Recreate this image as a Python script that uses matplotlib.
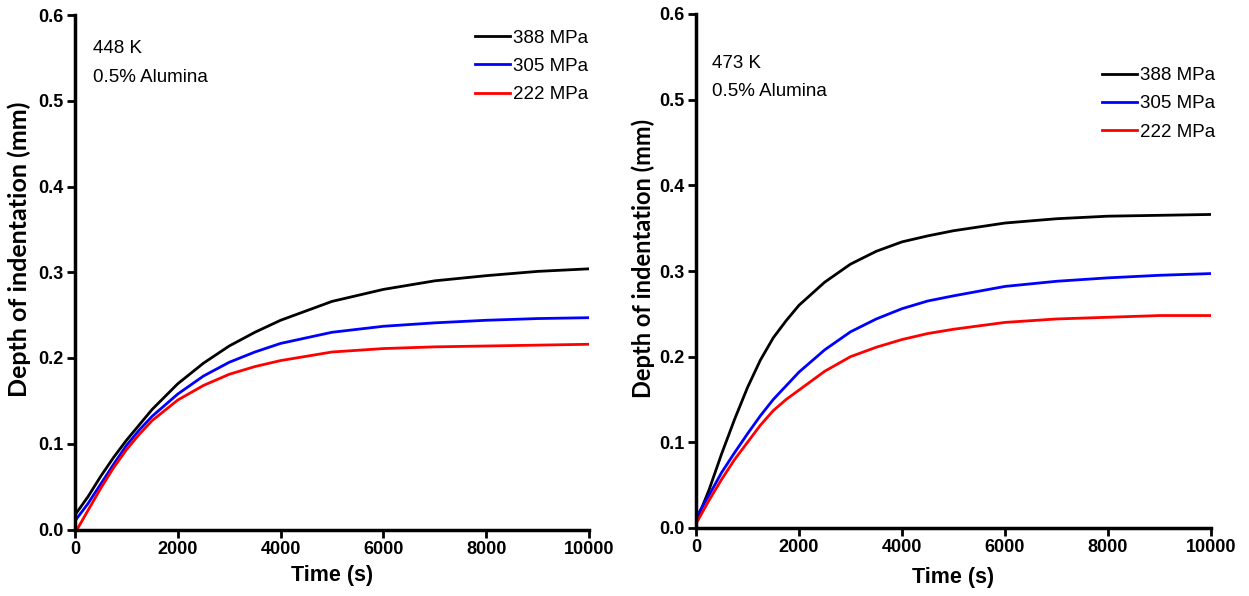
import matplotlib
matplotlib.use("Agg")
import matplotlib.pyplot as plt

plt.rcParams['font.family'] = ['Liberation Sans', 'DejaVu Sans']

# ---- data ----
time_448 = [0, 250, 500, 750, 1000, 1250, 1500, 2000, 2500, 3000, 3500, 4000, 5000, 6000, 7000, 8000, 9000, 10000]
d448_388 = [0.017, 0.038, 0.062, 0.084, 0.104, 0.122, 0.140, 0.170, 0.194, 0.214, 0.230, 0.244, 0.266, 0.280, 0.290, 0.296, 0.301, 0.304]
d448_305 = [0.010, 0.030, 0.053, 0.076, 0.098, 0.116, 0.132, 0.158, 0.179, 0.195, 0.207, 0.217, 0.230, 0.237, 0.241, 0.244, 0.246, 0.247]
time_448_red = [40, 250, 500, 750, 1000, 1250, 1500, 2000, 2500, 3000, 3500, 4000, 5000, 6000, 7000, 8000, 9000, 10000]
d448_222 = [0.000, 0.022, 0.048, 0.072, 0.093, 0.111, 0.127, 0.151, 0.168, 0.181, 0.190, 0.197, 0.207, 0.211, 0.213, 0.214, 0.215, 0.216]

time_473 = [0, 250, 500, 750, 1000, 1250, 1500, 1750, 2000, 2500, 3000, 3500, 4000, 4500, 5000, 6000, 7000, 8000, 9000, 10000]
d473_388 = [0.007, 0.044, 0.087, 0.127, 0.164, 0.196, 0.222, 0.242, 0.260, 0.287, 0.308, 0.323, 0.334, 0.341, 0.347, 0.356, 0.361, 0.364, 0.365, 0.366]
d473_305 = [0.012, 0.038, 0.065, 0.088, 0.110, 0.131, 0.150, 0.166, 0.182, 0.208, 0.229, 0.244, 0.256, 0.265, 0.271, 0.282, 0.288, 0.292, 0.295, 0.297]
d473_222 = [0.005, 0.032, 0.057, 0.080, 0.100, 0.120, 0.137, 0.150, 0.161, 0.183, 0.200, 0.211, 0.220, 0.227, 0.232, 0.240, 0.244, 0.246, 0.248, 0.248]

labels = ['388 MPa', '305 MPa', '222 MPa']
colors = ['black', 'blue', 'red']
xticks = [0, 2000, 4000, 6000, 8000, 10000]
yticks = [0.0, 0.1, 0.2, 0.3, 0.4, 0.5, 0.6]

W, H = 1249, 596
fig = plt.figure(figsize=(W / 100, H / 100), dpi=100)
ax1 = fig.add_axes([75 / W, 1 - 529.5 / H, 514 / W, 514.5 / H])
ax2 = fig.add_axes([696 / W, 1 - 528 / H, 515 / W, 514 / H])

def style(ax, ysize, ylab_xy, xpad):
    ax.set_xlim(0, 10000)
    ax.set_ylim(0, 0.6)
    ax.set_xticks(xticks)
    ax.set_yticks(yticks)
    ax.set_xticklabels([str(v) for v in xticks], fontsize=13, fontweight='bold')
    ax.set_yticklabels([f"{v:.1f}" for v in yticks], fontsize=13, fontweight='bold')
    for s in ['top', 'right']:
        ax.spines[s].set_visible(False)
    for s in ['left', 'bottom']:
        ax.spines[s].set_linewidth(2.5)
    ax.tick_params(direction='out', length=6, width=2, pad=2)
    ax.set_xlabel('Time (s)', fontsize=15.5, fontweight='bold', labelpad=xpad)
    ax.set_ylabel('Depth of indentation (mm)', fontsize=ysize, fontweight='bold',
                  family=['Lato', 'Liberation Sans', 'DejaVu Sans'])
    ax.yaxis.set_label_coords(*ylab_xy)

leg_kw = dict(loc='upper left', frameon=False, fontsize=13.5, handlelength=1.85,
              handletextpad=0.2, labelspacing=0.6, borderpad=0, borderaxespad=0)

ax1.plot(time_448, d448_388, color=colors[0], lw=2, label=labels[0])
ax1.plot(time_448, d448_305, color=colors[1], lw=2, label=labels[1])
ax1.plot(time_448_red, d448_222, color=colors[2], lw=2, label=labels[2])
style(ax1, 18, (-0.085, 0.545), 5)
ax1.text(0.035, 0.935, '448 K', transform=ax1.transAxes, fontsize=13.5, va='center')
ax1.text(0.035, 0.879, '0.5% Alumina', transform=ax1.transAxes, fontsize=13.5, va='center')
ax1.legend(bbox_to_anchor=(0.778, 0.972), **leg_kw)

ax2.plot(time_473, d473_388, color=colors[0], lw=2, label=labels[0])
ax2.plot(time_473, d473_305, color=colors[1], lw=2, label=labels[1])
ax2.plot(time_473, d473_222, color=colors[2], lw=2, label=labels[2])
style(ax2, 17, (-0.08, 0.525), 8)
ax2.text(0.031, 0.903, '473 K', transform=ax2.transAxes, fontsize=13.5, va='center')
ax2.text(0.031, 0.849, '0.5% Alumina', transform=ax2.transAxes, fontsize=13.5, va='center')
ax2.legend(bbox_to_anchor=(0.788, 0.897), **leg_kw)

fig.savefig('out.png', dpi=100)
